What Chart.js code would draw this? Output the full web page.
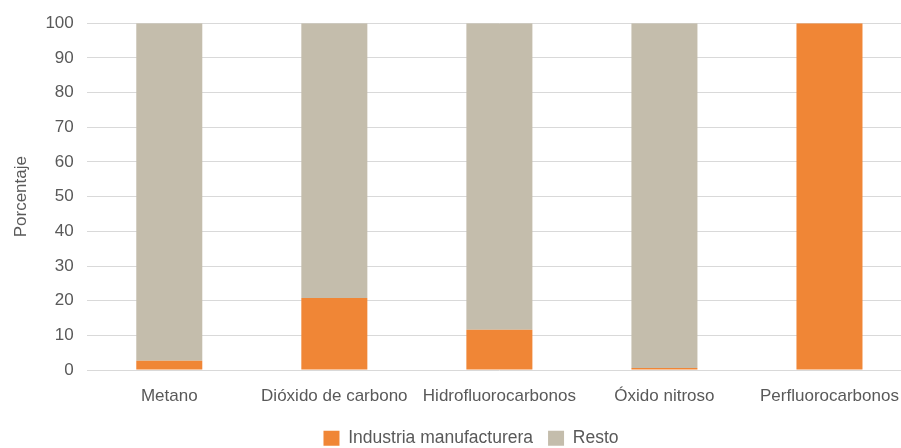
<!DOCTYPE html>
<html>
<head>
<meta charset="utf-8">
<script src="https://cdn.jsdelivr.net/npm/chart.js@4"></script>
<style>
  html, body { margin: 0; padding: 0; background: #fff; overflow: hidden; }
  #wrap { width: 942px; height: 448px; }
</style>
</head>
<body>
<div id="wrap"><canvas id="gases"></canvas></div>
<script>
var categories = ["Metano", "Dióxido de carbono", "Hidrofluorocarbonos", "Óxido nitroso", "Perfluorocarbonos"];
var industria = [2.7, 20.8, 11.6, 0.6, 100];
var resto = [97.3, 79.2, 88.4, 99.4, 0];

(function(){
  var font = "'Liberation Sans', sans-serif";
  var grey = "#595959";
  var ctx = document.getElementById("gases").getContext("2d");

  // the legend sits a bit right of the plot centre in the original
  var shiftLegend = {
    id: "shiftLegend",
    afterLayout: function(chart){
      if (chart.legend) { chart.legend.left += 14; chart.legend.right += 14; }
    }
  };

  new Chart(ctx, {
    type: "bar",
    data: {
      labels: categories,
      datasets: [
        { label: "Industria manufacturera", data: industria, backgroundColor: "#f08636", barPercentage: 0.4, categoryPercentage: 1 },
        { label: "Resto", data: resto, backgroundColor: "#c4bdac", barPercentage: 0.4, categoryPercentage: 1 }
      ]
    },
    options: {
      responsive: true,
      maintainAspectRatio: false,
      animation: false,
      layout: { padding: { top: 16, right: 30, left: 2, bottom: -9 } },
      plugins: {
        legend: {
          position: "bottom",
          labels: { boxWidth: 16, boxHeight: 15, color: grey, font: { family: font, size: 17.5 }, padding: 15 }
        },
        tooltip: { enabled: false }
      },
      scales: {
        x: {
          stacked: true,
          grid: { display: false },
          border: { display: false },
          ticks: { color: grey, font: { family: font, size: 17 }, padding: 8, maxRotation: 0, autoSkip: false }
        },
        y: {
          stacked: true,
          min: 0,
          max: 100,
          ticks: { stepSize: 10, color: grey, font: { family: font, size: 17 }, padding: 13 },
          grid: { color: "#d9d9d9", drawTicks: false },
          border: { display: false },
          title: { display: true, text: "Porcentaje", color: grey, font: { family: font, size: 17 }, padding: { top: 9, bottom: 1 } }
        }
      }
    },
    plugins: [shiftLegend]
  });
})();
</script>
</body>
</html>
